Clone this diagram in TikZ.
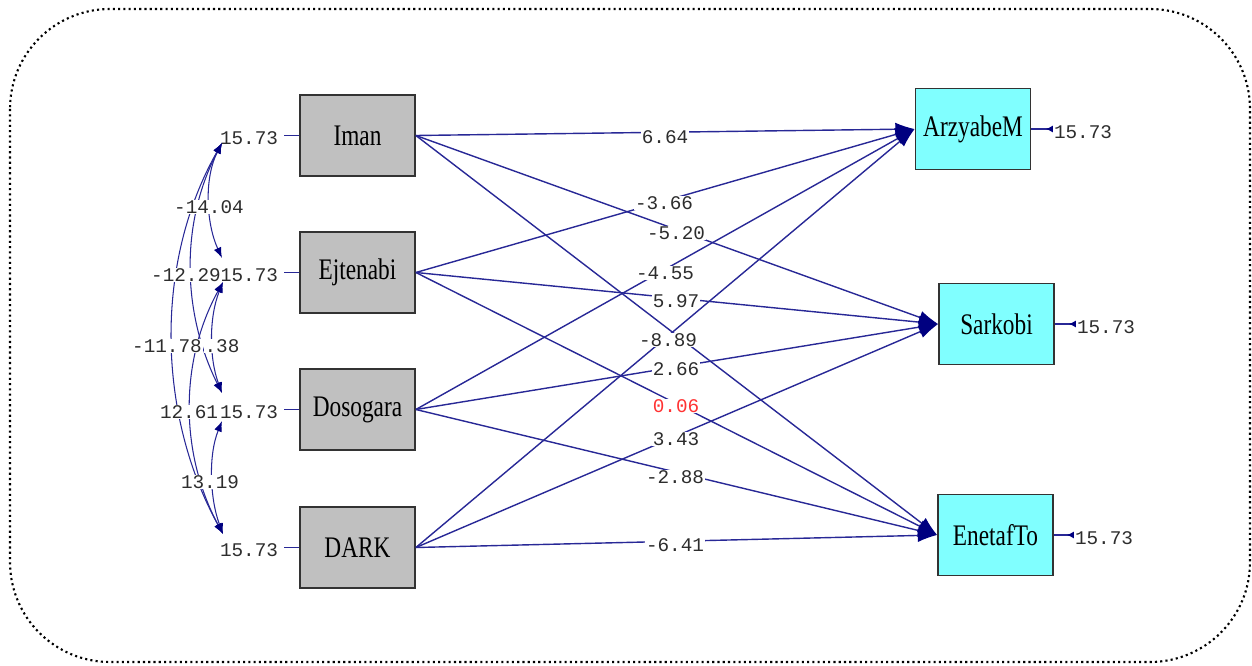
\documentclass[tikz,border=0pt]{standalone}
\usepackage{fontspec}
\setmainfont{Liberation Serif}
\newfontfamily\boxfont[FakeStretch=0.78]{Liberation Serif}
\newfontfamily\numfont{Liberation Mono}
\usetikzlibrary{arrows.meta}
\definecolor{pathblue}{RGB}{40,40,150}
\definecolor{headblue}{RGB}{0,0,128}
\definecolor{boxgray}{RGB}{192,192,192}
\definecolor{boxcyan}{RGB}{128,255,255}
\definecolor{numgray}{RGB}{45,45,45}
\definecolor{numred}{RGB}{255,50,50}

\begin{document}
\begin{tikzpicture}[x=0.02cm,y=-0.02cm,
  xvar/.style={draw=black!80,line width=1pt,fill=boxgray,minimum width=2.3cm,minimum height=1.62cm,inner sep=0pt,font=\boxfont\fontsize{17}{17}\selectfont},
  yvar/.style={xvar,fill=boxcyan},
  num/.style={fill=white,inner sep=0.5pt,text=numgray,font=\numfont\fontsize{11}{11}\selectfont},
  coef/.style={draw=pathblue,line width=0.8pt,-{Latex[length=11pt,width=7.5pt,color=headblue]}},
  cov/.style={draw=pathblue,line width=0.6pt,{Latex[length=6pt,width=4.5pt,color=headblue]}-{Latex[length=6pt,width=4.5pt,color=headblue]}},
  errline/.style={draw=pathblue,line width=0.8pt,shorten <=3pt},
  errarrow/.style={draw=pathblue,line width=0.8pt,-{Latex[length=4pt,width=4pt,reversed,color=headblue]}}]

\useasboundingbox (0,0) rectangle (1252,666);
\draw[line width=1.2pt,dash pattern=on 1.2pt off 1.8pt,rounded corners=2cm] (10,9) rectangle (1250,662);

\node[xvar] (iman) at (357.5,135.5) {Iman};
\node[xvar] (ejt) at (357.5,272.5) {Ejtenabi};
\node[xvar] (dos) at (357.5,409.5) {Dosogara};
\node[xvar] (dark) at (357.5,547.5) {DARK};

\node[yvar] (arz) at (973,129) {ArzyabeM};
\node[yvar] (sar) at (996.5,324) {Sarkobi};
\node[yvar] (ene) at (995.5,535) {EnetafTo};

\draw[coef] (iman.east) -- (arz.west);
\draw[coef] (ejt.east) -- (arz.west);
\draw[coef] (dos.east) -- (arz.west);
\draw[coef] (dark.east) -- (arz.west);
\draw[coef] (iman.east) -- (sar.west);
\draw[coef] (ejt.east) -- (sar.west);
\draw[coef] (dos.east) -- (sar.west);
\draw[coef] (dark.east) -- (sar.west);
\draw[coef] (iman.east) -- (ene.west);
\draw[coef] (ejt.east) -- (ene.west);
\draw[coef] (dos.east) -- (ene.west);
\draw[coef] (dark.east) -- (ene.west);

\node[num] (b1) at (665,137) {6.64};
\node[num] (b2) at (664,203) {-3.66};
\node[num] (b3) at (676,233) {-5.20};
\node[num] (b4) at (665,273) {-4.55};
\node[num] (b5) at (676,301) {5.97};
\node[num] (b6) at (668,340) {-8.89};
\node[num] (b7) at (676,369) {2.66};
\node[num,text=numred] (b8) at (676,406) {0.06};
\node[num] (b9) at (676,439) {3.43};
\node[num] (b10) at (675,477) {-2.88};
\node[num] (b11) at (675,545) {-6.41};

\node[num] (ei) at (249,138) {15.73};
\node[num] (ee) at (249,275) {15.73};
\node[num] (ed) at (249,412) {15.73};
\node[num] (ek) at (249,550) {15.73};
\draw[errline] (ei.east |- iman) -- (iman.west);
\draw[errline] (ee.east |- ejt) -- (ejt.west);
\draw[errline] (ed.east |- dos) -- (dos.west);
\draw[errline] (ek.east |- dark) -- (dark.west);

\node[num] (ea) at (1083,132) {15.73};
\node[num] (es) at (1106,327) {15.73};
\node[num] (en) at (1104,538) {15.73};
\draw[errarrow] (arz.east) -- (ea.west |- arz);
\draw[errarrow] (sar.east) -- (es.west |- sar);
\draw[errarrow] (ene.east) -- (en.west |- ene);

\coordinate (imanb) at (222,143);
\coordinate (ejtt) at (222,258);
\coordinate (ejtb) at (223,282);
\coordinate (dost) at (222,393);
\coordinate (dosb) at (222,421);
\coordinate (darkt) at (223,534);

\draw[cov] (imanb) .. controls +(-18,35) and +(-16,-35) .. (ejtt);
\draw[cov] (imanb) .. controls +(-42,80) and +(-40,-80) .. (dost);
\draw[cov] (imanb) .. controls +(-68,120) and +(-66,-120) .. (darkt);
\draw[cov] (ejtb) .. controls +(-14,35) and +(-13,-35) .. (dost);
\draw[cov] (ejtb) .. controls +(-44,80) and +(-43,-80) .. (darkt);
\draw[cov] (dosb) .. controls +(-14,35) and +(-13,-35) .. (darkt);

\node[num] (c1) at (209,207) {-14.04};
\node[num] (c2) at (186,275) {-12.29};
\node[num] (c4) at (222,346) {.38};
\node[num] (c3) at (167,346) {-11.78};
\node[num] (c5) at (189,412) {12.61};
\node[num] (c6) at (210,482) {13.19};

\end{tikzpicture}
\end{document}
